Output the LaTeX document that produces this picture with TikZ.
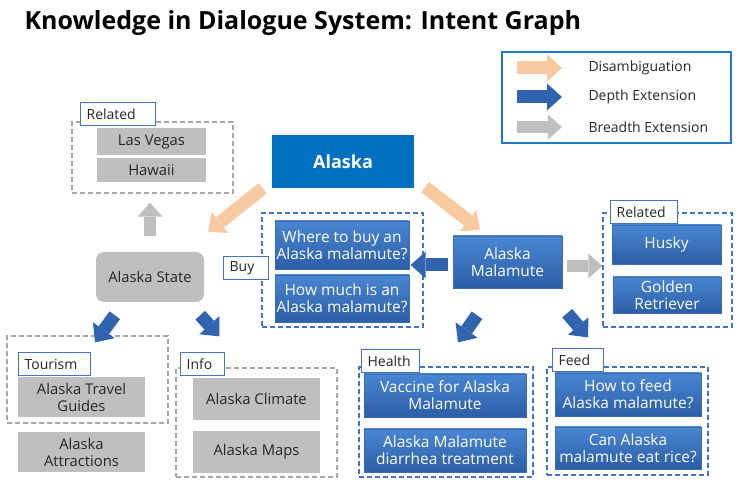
\documentclass[tikz,border=0pt]{standalone}
\usepackage{fontspec}
\setmainfont{Open Sans}
\usetikzlibrary{arrows.meta}
\usetikzlibrary{calc}
\definecolor{alaskablue}{HTML}{0070C0}
\definecolor{bluetop}{HTML}{4A86D2}
\definecolor{bluebot}{HTML}{2B5EA6}
\definecolor{blueedge}{HTML}{3A6CB0}
\definecolor{boxgray}{HTML}{BFBFBF}
\definecolor{textdark}{HTML}{262626}
\definecolor{dashgray}{HTML}{A6A6A6}
\definecolor{dashblue}{HTML}{4472C4}
\definecolor{tagblue}{HTML}{4472C4}
\definecolor{disorange}{HTML}{F9C9A1}
\definecolor{depblue}{HTML}{3064AE}
\definecolor{legblue}{HTML}{1F78C8}
\newcommand{\boxfont}{\fontsize{14}{17}\selectfont}
\newcommand{\grayfont}{\fontsize{14.8}{17}\selectfont}
\newcommand{\bluefont}{\fontsize{15.5}{17}\selectfont}
\tikzset{
    sized/.style 2 args = {minimum width=#1pt, minimum height=#2pt},
    graybox/.style = {rectangle, fill=boxgray, text=textdark, align=center, inner sep=0pt, font=\grayfont},
    bluebox/.style = {rectangle, top color=bluetop, bottom color=bluebot, draw=blueedge, text=white, align=center, inner sep=0pt, font=\bluefont},
    tagbox/.style = {rectangle, draw=tagblue, fill=white, line width=1.2pt, text=textdark, text width=#1pt, align=left, inner xsep=6pt, inner ysep=0pt, minimum height=23pt, anchor=north west, font=\boxfont},
    groupg/.style = {rectangle, draw=dashgray, line width=1.3pt, dash pattern=on 5pt off 3pt, inner sep=0pt},
    groupb/.style = {rectangle, draw=dashblue, line width=1.3pt, dash pattern=on 5pt off 3pt, inner sep=0pt},
    arrdis/.style = {-{Triangle[length=15pt,width=27pt,line width=0pt]}, line width=13pt, disorange}, % disambiguation
    arrdep/.style = {-{Triangle[length=15pt,width=27pt,line width=0pt]}, line width=13pt, depblue}, % depth
    arrbre/.style = {-{Triangle[length=14pt,width=25pt,line width=0pt]}, line width=12pt, boxgray} % breadth
}

\begin{document}
\begin{tikzpicture}[x=1pt, y=-1pt]
\useasboundingbox (0,0) rectangle (740,486);

\node[anchor=west, font=\bfseries\fontsize{25}{29}\selectfont] (title) at (21,23) {Knowledge in Dialogue System: Intent Graph};

% legend
\node[draw=legblue, line width=1.5pt, sized={229}{91}] (legend) at (616.5,97.5) {};
\foreach \st/\y/\txt in {arrdis/68/Disambiguation, arrdep/97/Depth Extension, arrbre/127/Breadth Extension}{
    \coordinate (l\st) at (517,\y);
    \draw[\st] (l\st) -- ++(45,0);
    \node[anchor=west, text=textdark, font=\boxfont] (t\st) at (585,\y) {\txt};
}

\node[fill=alaskablue, text=white, font=\bfseries\fontsize{18}{22}\selectfont, sized={142}{53}] (alaska) at (343,161.5) {Alaska};

% Alaska State side
\node[graybox, rounded corners=8pt, sized={108}{50}] (state) at (150,277) {Alaska State};
\node[groupg, sized={161}{71}] (relLbox) at (152.5,157.5) {};
\node[tagbox=63] (relLtag) at (80,102) {Related};
\node[graybox, sized={109}{27}] (vegas) at (151.5,141.5) {Las Vegas};
\node[graybox, sized={109}{24}] (hawaii) at (151.5,170) {Hawaii};

\node[groupg, sized={161}{87}] (tourbox) at (87.5,379.5) {};
\node[tagbox=60] (tourtag) at (18,352) {Tourism};
\node[graybox, sized={127}{40}] (travel) at (81.5,397) {Alaska Travel\\Guides};
\node[graybox, sized={127}{40}] (attract) at (81.5,452) {Alaska\\Attractions};

\node[groupg, sized={161}{109}] (infobox) at (256.5,422.5) {};
\node[tagbox=32] (infotag) at (180,352) {Info};
\node[graybox, sized={127}{42}] (climate) at (256.5,399) {Alaska Climate};
\node[graybox, sized={127}{42}] (maps) at (256.5,452) {Alaska Maps};

% buy
\node[groupb, sized={161}{114}] (buybox) at (342.5,270) {};
\node[tagbox=33] (buytag) at (223,256) {Buy};
\node[bluebox, sized={134}{48}] (where) at (342,245) {Where to buy an\\Alaska malamute?};
\node[bluebox, sized={134}{47}] (howmuch) at (342,298.5) {How much is an\\Alaska malamute?};

% Alaska Malamute side
\node[bluebox, sized={109}{52}] (malamute) at (507.5,262) {Alaska\\Malamute};
\node[groupb, sized={129}{114}] (relRbox) at (667.5,270) {};
\node[tagbox=55] (relRtag) at (610,200) {Related};
\node[bluebox, sized={109}{39}] (husky) at (666.5,244.5) {Husky};
\node[bluebox, sized={108}{36}] (golden) at (667,295) {Golden\\Retriever};

\node[groupb, sized={174}{110}] (healthbox) at (446,422) {};
\node[tagbox=46] (healthtag) at (361,349) {Health};
\node[bluebox, sized={162}{43}] (vaccine) at (445,395.5) {Vaccine for Alaska\\Malamute};
\node[bluebox, sized={162}{43}] (diarrhea) at (445,450.5) {Alaska Malamute\\diarrhea treatment};

\node[groupb, sized={161}{108}] (feedbox) at (627.5,421) {};
\node[tagbox=39] (feedtag) at (552,348) {Feed};
\node[bluebox, sized={146}{43}] (howfeed) at (628,394.5) {How to feed\\Alaska malamute?};
\node[bluebox, sized={146}{42}] (rice) at (628,448) {Can Alaska\\malamute eat rice?};

% arrows
\draw[arrdis] ($(alaska.south west)+(-9,0)$) -- ($(state.north east)+(4,-20)$);
\draw[arrdis] ($(alaska.south east)+(11,-1)$) -- ($(malamute.north)+(-27.5,-6)$);
\draw[arrbre] ($(state.north)+(0,-16)$) -- ($(state.north |- relLbox.south)+(0,9)$);
\draw[arrdep] ($(state.south west)+(19,13)$) -- ($(tourbox.north)+(7.5,7)$);
\draw[arrdep] ($(state.south east)+(-4,13)$) -- ($(infobox.north west)+(44,-31)$);
\draw[arrdep] ($(malamute.west)+(-5,3)$) -- ($(buybox.east)+(-13,-5)$);
\draw[arrbre] ($(malamute.east)+(5,4)$) -- ($(relRbox.west)+(0,-4)$);
\draw[arrdep] ($(malamute.south)+(-30.5,27)$) -- ($(healthbox.north)+(12,-24)$);
\draw[arrdep] ($(malamute.south east)+(5,25)$) -- ($(feedbox.north)+(-39.5,-29)$);

\end{tikzpicture}
\end{document}
